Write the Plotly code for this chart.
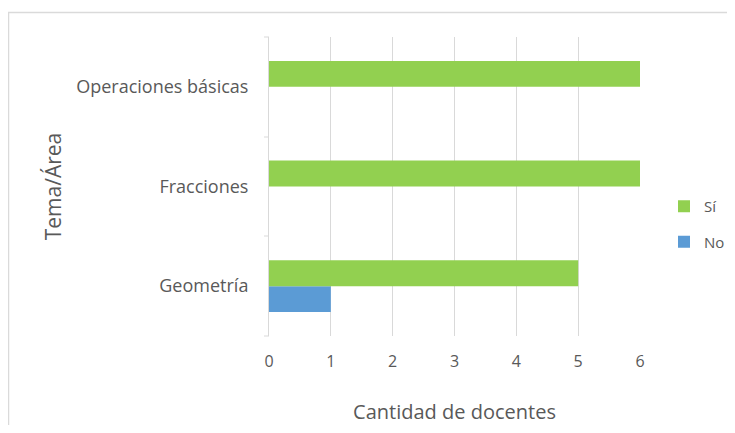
import plotly.graph_objects as go

categories = ["Geometría", "Fracciones", "Operaciones básicas"]
si_values = [5, 6, 6]
no_values = [1, 0, 0]
x_ticks = [0, 1, 2, 3, 4, 5, 6]

GRAY = "#595959"
FONT = "Open Sans"

fig = go.Figure()
fig.add_trace(go.Bar(y=categories, x=no_values, name="No", orientation="h",
                     legendgroup="no", legendrank=2,
                     marker=dict(color="#5B9BD5", line=dict(width=0))))
fig.add_trace(go.Bar(y=categories, x=si_values, name="Sí", orientation="h",
                     legendgroup="si", legendrank=1,
                     marker=dict(color="#92D050", line=dict(width=0))))

# page body has an 8px margin, so figure coordinates = screen - 8
OFF = 8
L, R, T, B = 269 - OFF, 640 - OFF, 37 - OFF, 336 - OFF
W, H = 735 - 2 * OFF, 433 - 2 * OFF

def px(x):
    return (x - OFF - L) / (R - L)

def py(y):
    return (B - (y - OFF)) / (B - T)

fig.update_layout(
    width=W, height=H,
    margin=dict(l=L, r=W - R, t=T, b=H - B, autoexpand=False),
    paper_bgcolor="white", plot_bgcolor="white",
    barmode="group", bargap=0.48, bargroupgap=0,
    font=dict(family=FONT, color=GRAY, size=16),
    showlegend=True,
    legend=dict(xref="container", yref="container",
                x=(664 - OFF) / W, y=1 - (190 - OFF) / H, xanchor="left", yanchor="top",
                traceorder="grouped", font=dict(size=15, color=GRAY),
                itemwidth=30, tracegroupgap=13, bgcolor="rgba(0,0,0,0)"),
    xaxis=dict(range=[0, 6], tickvals=x_ticks, showgrid=True, gridcolor="#d9d9d9",
               gridwidth=1, zeroline=False, showline=False, ticks="",
               automargin=False,
               tickfont=dict(size=16, color=GRAY), ticklabelstandoff=14,
               title=dict(text="Cantidad de docentes", font=dict(size=20, color=GRAY), standoff=36)),
    yaxis=dict(showgrid=False, zeroline=False, showline=True, linecolor="#d9d9d9",
               ticks="", automargin=False,
               tickfont=dict(size=18, color=GRAY), ticklabelstandoff=16,
               title=dict(text="Tema/Área", font=dict(size=21, color=GRAY), standoff=8)),
    shapes=[
        dict(type="rect", xref="paper", yref="paper", x0=px(8.5), x1=px(760),
             y0=py(460), y1=py(12.5), line=dict(color="#dadada", width=1.5), layer="below"),
    ] + [
        dict(type="line", xref="paper", yref="paper", x0=px(264), x1=px(269),
             y0=py(yb), y1=py(yb), line=dict(color="#d9d9d9", width=1))
        for yb in [37, 137, 236, 336]
    ],
)

fig.write_html("out.html")
